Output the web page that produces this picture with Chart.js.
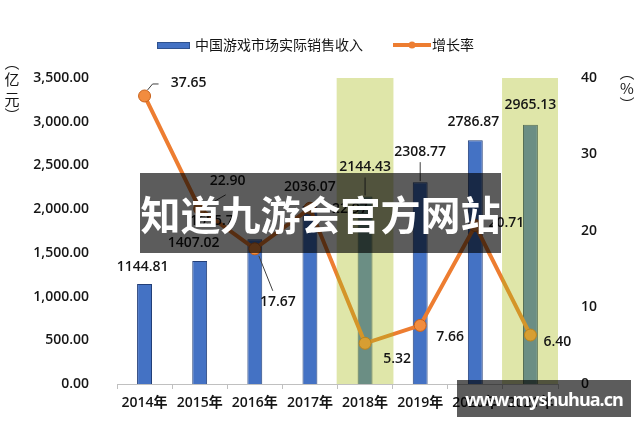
<!DOCTYPE html>
<html>
<head>
<meta charset="utf-8">
<script src="https://cdn.jsdelivr.net/npm/chart.js@4"></script>
<style>
  body { margin: 0; background: #fff; }
  #wrap { position: relative; width: 640px; height: 427px; }
  .wm { position: absolute; background: rgba(0,0,0,0.64); color: #fff; font-weight: bold;
        font-family: "Noto Sans CJK SC", "Noto Sans", sans-serif; display: flex;
        align-items: center; justify-content: center; white-space: nowrap; }
  #wm1 { left: 140px; top: 173px; width: 361px; height: 80px; font-size: 40px; }
  #wm2 { left: 457px; top: 380px; width: 174px; height: 37px; font-size: 18px; letter-spacing: -1px;
         font-family: "Open Sans", sans-serif; }
</style>
</head>
<body>
<div id="wrap">
  <canvas id="chart" width="640" height="427"></canvas>
  <div class="wm" id="wm1">知道九游会官方网站</div>
  <div class="wm" id="wm2">www.myshuhua.cn</div>
</div>
<script>
// 数据
const years = ['2014年', '2015年', '2016年', '2017年', '2018年', '2019年', '2020年', '2021年'];
const revenue = [1144.81, 1407.02, 1655.7, 2036.07, 2144.43, 2308.77, 2786.87, 2965.13];
const growth = [37.65, 22.90, 17.67, 22.97, 5.32, 7.66, 20.71, 6.40];
const highlightYears = ['2018年', '2021年'];
const revenueName = '中国游戏市场实际销售收入';
const growthName = '增长率';

// 标签偏移 (相对于柱顶/数据点)
const barLabelPos = [[-2, -17], [-6, -18], [-43, -18], [0, -19], [0, -29, true], [0, -30, true], [-2, -18], [0, -20]];
const lineLabelPos = [[44, -13, true], [28, -28, true], [23, 53, true], [40, 1], [32, 16], [30, 12], [31, -3], [27, 7]];

const FONT = '"Open Sans", "Noto Sans CJK SC", sans-serif';
const CJK = '"Noto Sans CJK SC", "Noto Sans", sans-serif';

const labelPlugin = {
  id: 'labels',
  afterDatasetsDraw(chart) {
    const ctx = chart.ctx;
    ctx.save();
    ctx.font = '600 14px ' + FONT;
    ctx.fillStyle = '#151515';
    ctx.textAlign = 'center';
    ctx.textBaseline = 'middle';
    ctx.strokeStyle = '#404040';
    ctx.lineWidth = 1;

    chart.getDatasetMeta(0).data.forEach((el, i) => {
      const [dx, dy, leader] = barLabelPos[i];
      const x = el.x + dx, y = el.y + dy;
      if (leader) {
        ctx.beginPath();
        ctx.moveTo(el.x, el.y - 1);
        ctx.lineTo(el.x, y + 10);
        ctx.stroke();
      }
      ctx.fillText(revenue[i].toFixed(revenue[i] === 1655.7 ? 1 : 2), x, y);
    });

    chart.getDatasetMeta(2).data.forEach((el, i) => {
      const [dx, dy, leader] = lineLabelPos[i];
      const x = el.x + dx, y = el.y + dy;
      if (leader) {
        ctx.beginPath();
        if (dy > 0) {
          ctx.moveTo(el.x + 4, el.y + 7);
          ctx.lineTo(x - 5, y - 11);
        } else if (dx > 35) {
          ctx.moveTo(el.x + 3, el.y - 6);
          ctx.lineTo(el.x + 8, el.y - 12);
          ctx.lineTo(el.x + 14, el.y - 12);
        } else {
          ctx.moveTo(el.x + 12, el.y - 6);
          ctx.lineTo(x - 2, y + 14);
        }
        ctx.stroke();
      }
      ctx.fillText(growth[i].toFixed(2), x, y);
    });
    ctx.restore();
  },
  afterDraw(chart) {
    const ctx = chart.ctx;
    ctx.save();
    ctx.textBaseline = 'middle';
    // 图例
    ctx.font = '14px ' + CJK;
    ctx.fillStyle = '#4472c4';
    ctx.fillRect(157, 42, 33, 7);
    ctx.strokeStyle = '#2f528f';
    ctx.lineWidth = 1;
    ctx.strokeRect(157.5, 42.5, 32, 6);
    ctx.fillStyle = '#151515';
    ctx.textAlign = 'left';
    ctx.fillText(revenueName, 195, 45);
    ctx.strokeStyle = '#ed7d31';
    ctx.lineWidth = 4;
    ctx.beginPath();
    ctx.moveTo(393, 45);
    ctx.lineTo(431, 45);
    ctx.stroke();
    ctx.fillStyle = '#ed7d31';
    ctx.beginPath();
    ctx.arc(412, 45, 3.5, 0, Math.PI * 2);
    ctx.fill();
    ctx.fillStyle = '#151515';
    ctx.fillText(growthName, 432, 45);
    // 坐标轴标题
    ctx.textAlign = 'center';
    ctx.font = '15px ' + CJK;
    ['︵', '亿', '元', '︶'].forEach((c, i) => ctx.fillText(c, 12, [62, 79, 99, 115][i]));
    ['︵', '%', '︶'].forEach((c, i) => ctx.fillText(c, 627, [72, 88, 104][i]));
    ctx.restore();
  }
};

new Chart(document.getElementById('chart'), {
  type: 'bar',
  data: {
    labels: years,
    datasets: [
      {
        label: revenueName,
        data: revenue,
        yAxisID: 'y',
        grouped: false,
        backgroundColor: '#4472c4',
        borderColor: '#233f78',
        borderWidth: 1,
        barPercentage: 0.27,
        categoryPercentage: 1,
        order: 3
      },
      {
        label: 'highlight',
        data: years.map(y => highlightYears.includes(y) ? 1 : null),
        yAxisID: 'yh',
        grouped: false,
        backgroundColor: 'rgba(172, 190, 30, 0.38)',
        borderWidth: 0,
        barPercentage: 1.03,
        categoryPercentage: 1,
        order: 0
      },
      {
        type: 'line',
        label: growthName,
        data: growth,
        yAxisID: 'y1',
        borderColor: '#ed7d31',
        borderWidth: 4,
        pointRadius: 6,
        pointBackgroundColor: '#f28c3f',
        pointBorderColor: '#c8611a',
        pointBorderWidth: 1,
        tension: 0,
        order: 1
      }
    ]
  },
  options: {
    responsive: false,
    animation: false,
    layout: { padding: { top: 78, left: 0, right: 0, bottom: 0 } },
    plugins: { legend: { display: false }, tooltip: { enabled: false } },
    scales: {
      x: {
        offset: true,
        grid: { display: true, drawOnChartArea: false, drawTicks: true, tickLength: 5, color: '#c0c0c0' },
        border: { color: '#c0c0c0' },
        ticks: { font: { size: 14, weight: '600', family: FONT }, color: '#151515', padding: 6, maxRotation: 0, autoSkip: false },
        afterFit: s => { s.height = 43; }
      },
      y: {
        position: 'left',
        min: 0,
        max: 3500,
        grid: { display: false },
        border: { display: false },
        ticks: {
          stepSize: 500,
          padding: 20,
          font: { size: 14, weight: '600', family: FONT },
          color: '#151515',
          callback: v => v.toLocaleString('en-US', { minimumFractionDigits: 2, maximumFractionDigits: 2 })
        },
        afterFit: s => { s.width = 117; }
      },
      y1: {
        position: 'right',
        min: 0,
        max: 40,
        grid: { display: false },
        border: { display: false },
        ticks: { stepSize: 10, padding: 15, font: { size: 14, weight: '600', family: FONT }, color: '#151515' },
        afterFit: s => { s.width = 82; }
      },
      yh: { display: false, min: 0, max: 1 }
    }
  },
  plugins: [labelPlugin]
});
</script>
</body>
</html>
